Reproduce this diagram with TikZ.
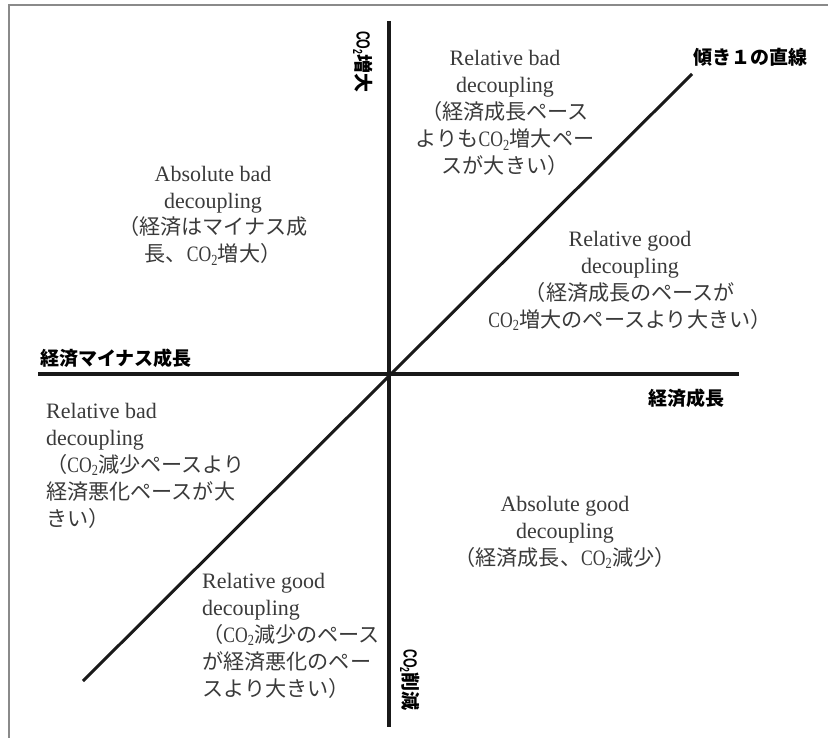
\documentclass[tikz,border=0pt]{standalone}
\usepackage{fontspec}
\setmainfont{Liberation Serif}
\newfontfamily\cjk[Scale=0.96]{Noto Sans CJK JP}
\newfontfamily\cjklab{Noto Sans CJK JP}
\newfontfamily\serifnarrow[FakeStretch=0.8]{Liberation Serif}
\newfontfamily\narrowb[FakeStretch=0.65]{Liberation Sans}
\newcommand{\jp}[1]{{\cjk #1}}
\newcommand{\COt}{{\serifnarrow CO\textsubscript{2}}}
\newcommand{\COb}{{\narrowb\bfseries CO\textsubscript{2}}}
\definecolor{txt}{HTML}{3A3A3A}
\definecolor{framec}{HTML}{8A8A8A}
\tikzset{
  quad/.style={inner sep=0pt, text=txt, font=\fontsize{22}{27}\selectfont},
  quadc/.style={quad, align=center, anchor=base},
  quadl/.style={quad, align=left, anchor=base west},
  axlabel/.style={inner sep=0pt, text=black, font=\cjklab\bfseries\fontsize{19}{22}\selectfont},
  axis/.style={line width=3.2pt, black!90},
  diag/.style={line width=3pt, black!90},
  framel/.style={line width=1.5pt, framec}
}
\begin{document}
\begin{tikzpicture}[x=1pt,y=-1pt]
\useasboundingbox (0,0) rectangle (828,738);
% frame
\coordinate (f1) at (9,738);
\coordinate (f2) at (9,5);
\coordinate (f3) at (828,5);
\draw[framel] (f1) -- (f2) -- (f3);
% axes
\coordinate (vtop) at (389,21);
\coordinate (vbot) at (389,727);
\coordinate (hl) at (38,374);
\coordinate (hr) at (739,374);
\coordinate (dl) at (83,681);
\coordinate (dr) at (692,74);
\draw[axis] (vtop) -- (vbot);
\draw[axis] (hl) -- (hr);
\draw[diag] (dl) -- (dr);
% axis labels
\node[axlabel, anchor=west] (negx) at (40,358) {経済マイナス成長};
\node[axlabel] (posx) at (686,398) {経済成長};
\node[axlabel] (slope) at (750,57) {傾き１の直線};
\node[axlabel, rotate=-90] (posy) at (363,62) {\COb 増大};
\node[axlabel, rotate=-90] (negy) at (410,680) {\COb 削減};
% quadrant texts (anchor = baseline of last line)
\node[quadc] (absbad) at (213,262) {Absolute bad\\decoupling\\\jp{（経済はマイナス成}\\\jp{長、}\COt\jp{増大）}};
\node[quadc] (relbadup) at (505,174) {Relative bad\\decoupling\\\jp{（経済成長ペース}\\\jp{よりも}\COt\jp{増大ペー}\\\jp{スが大きい）}};
\node[quadc] (relgoodr) at (630,327) {Relative good\\decoupling\\\jp{（経済成長のペースが}\\\COt\jp{増大のペースより大きい）}};
\node[quadl] (relbadlo) at (46,526) {Relative bad\\decoupling\\\jp{（}\COt\jp{減少ペースより}\\\jp{経済悪化ペースが大}\\\jp{きい）}};
\node[quadl] (relgoodlo) at (202,696) {Relative good\\decoupling\\\jp{（}\COt\jp{減少のペース}\\\jp{が経済悪化のペー}\\\jp{スより大きい）}};
\node[quadc] (absgood) at (565,565) {Absolute good\\decoupling\\\jp{（経済成長、}\COt\jp{減少）}};
\end{tikzpicture}
\end{document}
